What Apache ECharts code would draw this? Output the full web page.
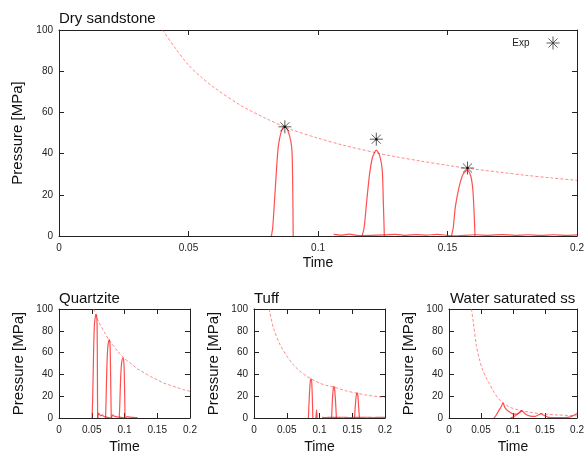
<!DOCTYPE html>
<html>
<head>
<meta charset="utf-8">
<script src="https://cdn.jsdelivr.net/npm/echarts@6/dist/echarts.min.js"></script>
<style>html,body{margin:0;padding:0;background:#fff}#c{width:587px;height:455px}</style>
</head>
<body>
<div id="c"></div>
<script>
// ---- Tick labels / axes ----
var xTicks = [0, 0.05, 0.1, 0.15, 0.2];
var yTicks = [0, 20, 40, 60, 80, 100];
var panelTitles = ['Dry sandstone', 'Quartzite', 'Tuff', 'Water saturated ss'];

// ---- Dry sandstone ----
var dryEnvelope = [[0.04,100],[0.045,91],[0.05,83],[0.055,77],[0.06,72],[0.07,63.5],[0.08,57],[0.087,53],[0.09,51.5],[0.1,47.5],[0.11,44],[0.122,40.5],[0.13,38.5],[0.14,36.3],[0.15,34.3],[0.157,33],[0.17,31],[0.18,29.5],[0.19,28.2],[0.2,27]];
var dryPulse1 = [[0.0820,0],[0.0825,4],[0.0832,17],[0.0844,40],[0.0851,47],[0.0862,52],[0.0872,53],[0.0884,51],[0.0895,46],[0.0900,40],[0.0903,17],[0.0904,0]];
var dryPulse2 = [[0.1170,0],[0.1178,4],[0.1188,17],[0.1199,30],[0.1210,38],[0.1225,41.7],[0.1238,39],[0.1248,32],[0.1252,17],[0.1256,0]];
var dryPulse3 = [[0.1515,0],[0.1522,4],[0.1530,14],[0.1545,24],[0.1560,30],[0.1577,32],[0.1590,29],[0.1598,22],[0.1603,10],[0.1606,0]];
var dryNoise = [[0.106,0.8],[0.109,0.4],[0.112,0.9],[0.115,0.3],[0.117,0.2],[0.126,0.5],[0.13,0.8],[0.134,0.3],[0.138,0.7],[0.142,0.4],[0.146,0.8],[0.15,0.3],[0.152,0.1],[0.161,0.6],[0.166,0.3],[0.171,0.7],[0.176,0.3],[0.181,0.6],[0.186,0.3],[0.191,0.6],[0.196,0.3],[0.2,0.5]];
var dryExp = [[0.0872,53],[0.1225,47],[0.1577,33]];

// ---- Quartzite ----
var qEnvelope = [[0.053,100],[0.06,89],[0.07,78],[0.077,71],[0.09,61],[0.1,54.5],[0.11,50],[0.12,45],[0.13,41.5],[0.14,38],[0.15,35],[0.16,32],[0.17,30],[0.18,28],[0.19,26],[0.2,24.5]];
var qPulse1 = [[0.0505,0],[0.0515,20],[0.0528,60],[0.0540,85],[0.0555,93],[0.0569,95],[0.0580,88],[0.0585,60],[0.0588,20],[0.0590,0]];
var qPulse2 = [[0.0710,0],[0.0718,15],[0.0730,45],[0.0745,65],[0.0760,71],[0.0770,72],[0.0780,66],[0.0788,40],[0.0795,10],[0.0798,0]];
var qPulse3 = [[0.0920,0],[0.0928,12],[0.0940,35],[0.0955,50],[0.0975,55],[0.0985,54],[0.0995,45],[0.1003,20],[0.1008,0]];
var qNoise = [[0.059,0],[0.0605,4.5],[0.062,3],[0.064,2],[0.066,3],[0.068,1.5],[0.071,1],[0.08,0],[0.0815,3],[0.084,1.8],[0.087,1.2],[0.092,0.8],[0.101,0],[0.104,1.2],[0.108,0.8],[0.113,0.6],[0.12,0.3]];

// ---- Tuff ----
var tEnvelope = [[0.023,100],[0.03,82],[0.04,67],[0.05,57],[0.06,49],[0.07,43],[0.08,38.5],[0.087,36],[0.1,32],[0.11,30],[0.122,28.3],[0.14,25],[0.158,22.6],[0.17,21.2],[0.18,20.3],[0.19,19.6],[0.2,19]];
var tPulse1 = [[0.0830,0],[0.0845,20],[0.0858,33],[0.0870,36],[0.0880,34],[0.0890,20],[0.0898,0]];
var tSpike = [[0.0945,0],[0.0955,7.5],[0.0965,0]];
var tPulse2 = [[0.1185,0],[0.1198,18],[0.1210,27],[0.1220,29],[0.1230,27],[0.1245,15],[0.1258,0]];
var tPulse3 = [[0.1535,0],[0.1550,14],[0.1565,22],[0.1575,23],[0.1585,21],[0.1598,10],[0.1610,0]];
var tNoise = [[0.104,0.6],[0.11,0.4],[0.117,0.6],[0.127,0.5],[0.135,0.7],[0.145,0.4],[0.152,0.5],[0.162,0.5],[0.172,0.7],[0.182,0.4],[0.192,0.6],[0.2,0.5]];

// ---- Water saturated ss ----
var wEnvelope = [[0.035,100],[0.038,88],[0.0426,67],[0.047,55],[0.052,45],[0.058,37],[0.063,31.6],[0.07,24],[0.077,18],[0.084,14],[0.093,10.5],[0.1,8.8],[0.114,6.5],[0.13,5],[0.149,3.5],[0.17,2.8],[0.2,2]];
var wPulse = [[0.0705,0],[0.074,3],[0.078,7],[0.082,11],[0.0843,14],[0.087,10],[0.091,7],[0.096,5],[0.101,3.5],[0.106,3.5],[0.110,5],[0.1137,6.8],[0.117,5],[0.121,3],[0.127,1.8],[0.135,1.5],[0.140,3],[0.144,4],[0.148,2.5],[0.154,0.8],[0.165,0.3],[0.18,0.3],[0.19,1],[0.195,2.5],[0.2,4]];
var wPulseB = [[0.096,0],[0.102,1.5],[0.108,4],[0.1137,6.8]];

var FONT = 'Liberation Sans, Arial, sans-serif';
var grids = [
  {left: 59, top: 30, width: 520, height: 206},
  {left: 59, top: 309, width: 131, height: 113},
  {left: 254, top: 309, width: 131, height: 113},
  {left: 449, top: 309, width: 131, height: 113}
];
var titleLefts = [59, 59, 254, 450];
var titleTops = [11, 291, 291, 291];

var xAxes = [], yAxes = [];
grids.forEach(function (g, i) {
  var big = i === 0;
  var common = {
    type: 'value', gridIndex: i, min: xTicks[0], max: xTicks[xTicks.length - 1],
    interval: xTicks[1] - xTicks[0], splitLine: {show: false},
    axisLine: {show: true, onZero: false, lineStyle: {color: '#222', width: 1}},
    axisTick: {show: true, inside: true, length: 5, lineStyle: {color: '#222'}}
  };
  xAxes.push(Object.assign({}, common, {
    position: 'bottom', name: 'Time', nameLocation: 'middle', nameGap: big ? 20 : 22,
    nameTextStyle: {fontFamily: FONT, fontSize: 14, color: '#111'},
    axisLabel: {fontFamily: FONT, fontSize: 10, color: '#222', margin: 7}
  }));
  xAxes.push(Object.assign({}, common, {position: 'top', axisLabel: {show: false}}));
  var ycommon = {
    type: 'value', gridIndex: i, min: yTicks[0], max: yTicks[yTicks.length - 1],
    interval: yTicks[1] - yTicks[0], splitLine: {show: false},
    axisLine: {show: true, onZero: false, lineStyle: {color: '#222', width: 1}},
    axisTick: {show: true, inside: true, length: 5, lineStyle: {color: '#222'}}
  };
  yAxes.push(Object.assign({}, ycommon, {
    position: 'left', name: 'Pressure [MPa]', nameLocation: 'middle', nameGap: 33,
    nameTextStyle: {fontFamily: FONT, fontSize: 15, color: '#111'},
    axisLabel: {fontFamily: FONT, fontSize: 10, color: '#222', margin: 6}
  }));
  yAxes.push(Object.assign({}, ycommon, {position: 'right', axisLabel: {show: false}}));
});

var series = [];
function solid(data, i, name) {
  series.push({type: 'line', name: name || ('pulse' + series.length), xAxisIndex: 2 * i, yAxisIndex: 2 * i,
    data: data, showSymbol: false, symbol: 'none', smooth: 0.25, silent: true,
    lineStyle: {color: 'rgba(255,20,20,0.75)', width: 1.2}, z: 3});
}
function dashed(data, i) {
  series.push({type: 'line', name: 'env' + series.length, xAxisIndex: 2 * i, yAxisIndex: 2 * i,
    data: data, showSymbol: false, symbol: 'none', smooth: 0.3, silent: true,
    lineStyle: {color: 'rgba(255,90,90,0.7)', width: 1, type: [3, 2]}, z: 2});
}
dashed(dryEnvelope, 0); solid(dryPulse1, 0); solid(dryPulse2, 0); solid(dryPulse3, 0); solid(dryNoise, 0);
dashed(qEnvelope, 1); solid(qPulse1, 1); solid(qPulse2, 1); solid(qPulse3, 1); solid(qNoise, 1);
dashed(tEnvelope, 2); solid(tPulse1, 2); solid(tSpike, 2); solid(tPulse2, 2); solid(tPulse3, 2); solid(tNoise, 2);
dashed(wEnvelope, 3); solid(wPulse, 3); solid(wPulseB, 3);

var STAR = 'path://M0,6L12,6M6,0L6,12M1.8,1.8L10.2,10.2M10.2,1.8L1.8,10.2';
series.push({type: 'scatter', name: 'Exp', xAxisIndex: 0, yAxisIndex: 0, data: dryExp,
  symbol: STAR, symbolSize: 13, z: 5,
  itemStyle: {color: 'rgba(0,0,0,0)', borderColor: '#333', borderWidth: 1}});
series.push({type: 'scatter', name: 'ExpDot', xAxisIndex: 0, yAxisIndex: 0, data: dryExp,
  symbol: 'circle', symbolSize: 2.5, z: 6, itemStyle: {color: '#000'}});

var option = {
  backgroundColor: '#fff',
  animation: false,
  title: panelTitles.map(function (t, i) {
    return {text: t, left: titleLefts[i], top: titleTops[i], padding: 0,
      textStyle: {fontFamily: FONT, fontSize: 15, fontWeight: 'normal', color: '#111'}};
  }),
  legend: {data: [{name: 'Exp', icon: STAR, itemStyle: {color: 'rgba(0,0,0,0)', borderColor: '#333', borderWidth: 1}}],
    right: 22, top: 31, align: 'right',
    itemWidth: 13, itemHeight: 13, itemGap: 8, selectedMode: false,
    textStyle: {fontFamily: FONT, fontSize: 10, color: '#222', padding: [0, 12, 0, 0]}},
  grid: grids,
  xAxis: xAxes,
  yAxis: yAxes,
  series: series
};
var chart = echarts.init(document.getElementById('c'), null, {renderer: 'canvas'});
chart.setOption(option);
</script>
</body>
</html>
